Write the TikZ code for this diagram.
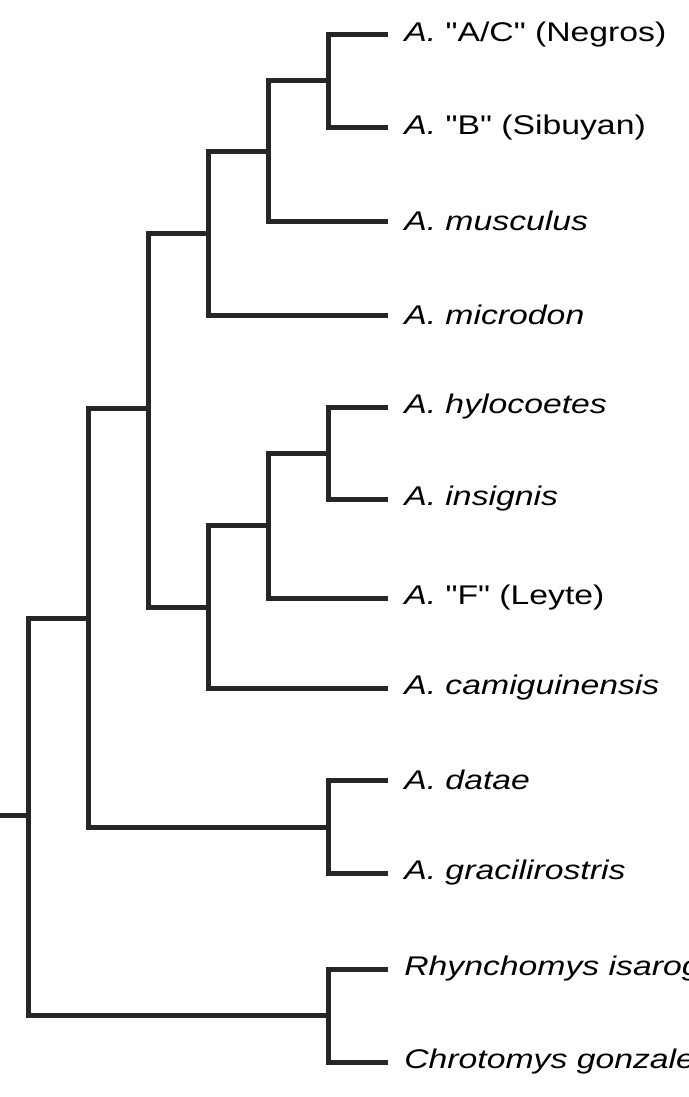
\documentclass[tikz,border=0pt]{standalone}
\usepackage{fontspec}
\setmainfont{Liberation Sans}[Ligatures=TeXOff]
\newcommand{\qq}{"}
\begin{document}
\begin{tikzpicture}[x=1pt,y=-1pt,
  br/.style={line width=5pt,line cap=rect,color=black!85},
  lab/.style={anchor=west,inner sep=0pt,xscale=1.25,font=\fontsize{27}{30}\selectfont}]
\useasboundingbox (0,0) rectangle (688,1097);
\foreach \n/\y/\t in {l1/35/{\textit{A.} \qq A/C\qq{} (Negros)},l2/128/{\textit{A.} \qq B\qq{} (Sibuyan)},
 l3/221/{\textit{A. musculus}},l4/315/{\textit{A. microdon}},l5/407/{\textit{A. hylocoetes}},
 l6/499/{\textit{A. insignis}},l7/598/{\textit{A.} \qq F\qq{} (Leyte)},l8/688/{\textit{A. camiguinensis}},
 l9/780/{\textit{A. datae}},l10/873/{\textit{A. gracilirostris}},
 l11/969/{\textit{Rhynchomys isarogensis}},l12/1062/{\textit{Chrotomys gonzalesi}}}{
  \coordinate (\n) at (385,\y);
  \node[lab] (t\n) at (404,\y) {\t};
}
\coordinate (a) at (328,81);
\coordinate (b) at (268,151);
\coordinate (c) at (208,233);
\coordinate (d) at (328,453);
\coordinate (e) at (268,525);
\coordinate (f) at (208,607);
\coordinate (g) at (148,408);
\coordinate (h) at (328,827);
\coordinate (i) at (88,618);
\coordinate (j) at (328,1015);
\coordinate (k) at (28,815);
\coordinate (r) at (0,815);
\draw[br] (l1) -| (a) |- (l2);
\draw[br] (a) -| (b) |- (l3);
\draw[br] (b) -| (c) |- (l4);
\draw[br] (l5) -| (d) |- (l6);
\draw[br] (d) -| (e) |- (l7);
\draw[br] (e) -| (f) |- (l8);
\draw[br] (c) -| (g) |- (f);
\draw[br] (l9) -| (h) |- (l10);
\draw[br] (g) -| (i) |- (h);
\draw[br] (l11) -| (j) |- (l12);
\draw[br] (i) -| (k) |- (j);
\draw[br,line cap=butt] (r) -- (k);
\end{tikzpicture}
\end{document}
